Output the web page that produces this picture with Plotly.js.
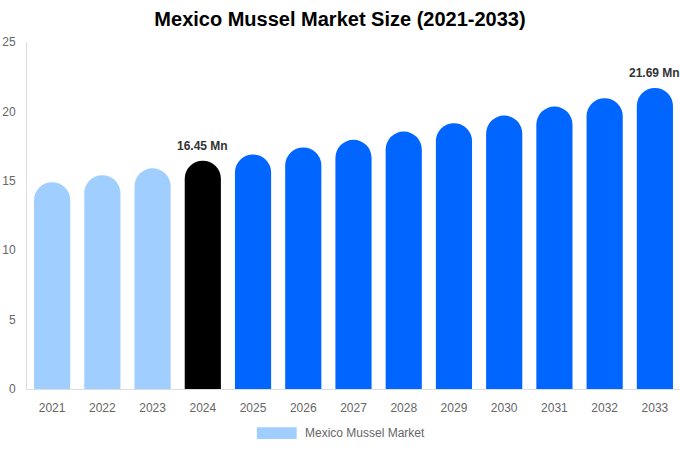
<!DOCTYPE html>
<html>
<head>
<meta charset="utf-8">
<script src="https://cdn.plot.ly/plotly-3.0.1.min.js"></script>
<style>
  html, body { margin: 0; padding: 0; background: #fff; }
  #chart { width: 680px; height: 450px; }
</style>
</head>
<body>
<div id="chart"></div>
<script>
// values
var years = ["2021", "2022", "2023", "2024", "2025", "2026", "2027", "2028", "2029", "2030", "2031", "2032", "2033"];
var marketSize = [14.9, 15.4, 15.9, 16.45, 16.9, 17.4, 17.95, 18.55, 19.15, 19.7, 20.35, 20.95, 21.69];
var labelled = ["2024", "2033"];
var seriesName = "Mexico Mussel Market";

var barColors = years.map(function (y) {
  var n = +y;
  if (n < 2024) return "#a0cfff";
  if (n == 2024) return "#000000";
  return "#0066ff";
});

var trace = {
  x: years,
  y: marketSize,
  type: "bar",
  name: seriesName,
  marker: { color: barColors, cornerradius: "50%" },
  hoverinfo: "x+y",
  showlegend: false
};

var notes = [];
years.forEach(function (y, i) {
  if (labelled.indexOf(y) >= 0) {
    // category index, since "2024" as a string would be read as an index
    notes.push({
      x: i, y: marketSize[i], xref: "x", yref: "y",
      text: "<b>" + marketSize[i].toFixed(2) + " Mn</b>",
      showarrow: false, yshift: 15,
      font: { size: 12, color: "#333333" }
    });
  }
});

// legend drawn by hand: wide swatch + label
notes.push({
  x: 0.423, y: -0.127, xref: "paper", yref: "paper",
  xanchor: "left", yanchor: "middle",
  text: seriesName, showarrow: false,
  font: { size: 12, color: "#666666" }
});

var layout = {
  width: 680,
  height: 450,
  margin: { l: 27, r: 0, t: 42, b: 61 },
  paper_bgcolor: "#ffffff",
  plot_bgcolor: "#ffffff",
  font: { family: "Liberation Sans, Arial, sans-serif", color: "#666666", size: 12 },
  title: {
    text: "<b>Mexico Mussel Market Size (2021-2033)</b>",
    font: { size: 20, color: "#000000" },
    x: 0.5, xanchor: "center", y: 0.973, yanchor: "top"
  },
  bargap: 0.28,
  xaxis: {
    type: "category",
    range: [-0.5, years.length - 0.5],
    showgrid: false,
    showline: true,
    linecolor: "#dddddd",
    ticks: "outside",
    ticklen: 8,
    tickcolor: "rgba(0,0,0,0)",
    tickfont: { size: 12, color: "#666666" }
  },
  yaxis: {
    range: [0, 25],
    dtick: 5,
    showgrid: false,
    zeroline: false,
    showline: true,
    linecolor: "#dddddd",
    ticks: "outside",
    ticklen: 8,
    tickcolor: "rgba(0,0,0,0)",
    tickfont: { size: 12, color: "#666666" }
  },
  shapes: [{
    type: "rect", xref: "paper", yref: "paper",
    x0: 0.352, x1: 0.413, y0: -0.144, y1: -0.110,
    fillcolor: "#a0cfff", line: { width: 0 }
  }],
  annotations: notes
};

Plotly.newPlot("chart", [trace], layout, { displayModeBar: false, staticPlot: true });
</script>
</body>
</html>
